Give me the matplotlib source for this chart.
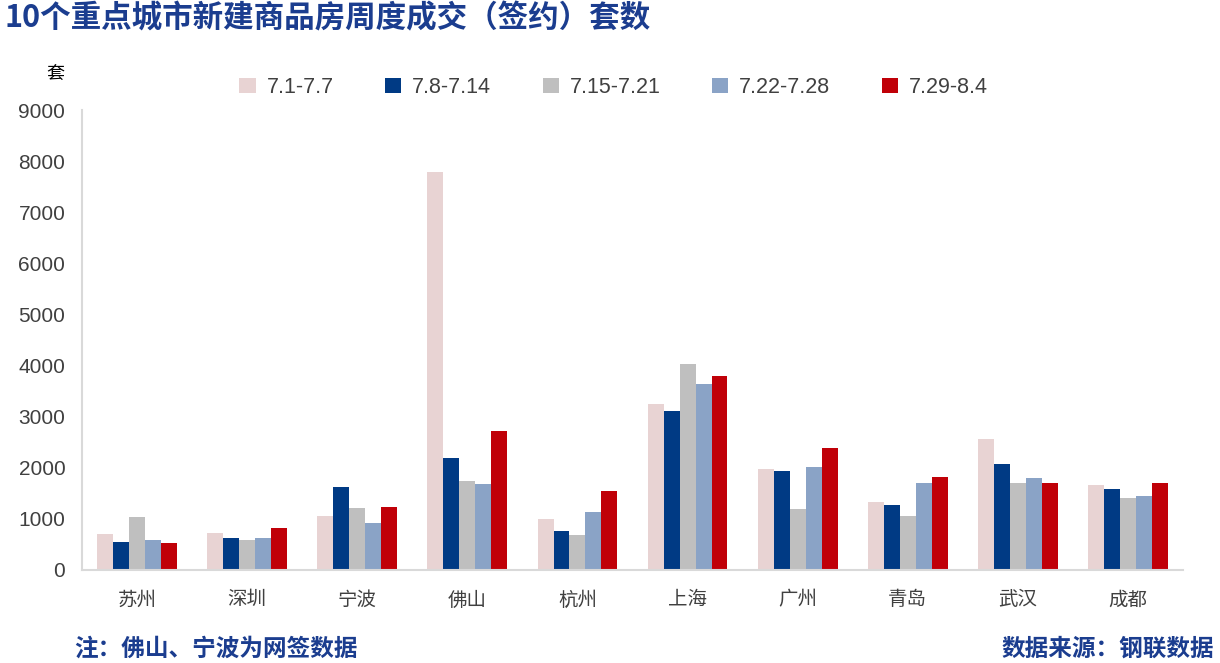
import matplotlib
matplotlib.use("Agg")
import matplotlib.pyplot as plt
import numpy as np

plt.rcParams['font.family'] = ['Noto Sans CJK SC', 'DejaVu Sans']

cities = ["苏州", "深圳", "宁波", "佛山", "杭州", "上海", "广州", "青岛", "武汉", "成都"]
weeks = ["7.1-7.7", "7.8-7.14", "7.15-7.21", "7.22-7.28", "7.29-8.4"]
w1 = [704, 724, 1057, 7790, 998, 3250, 1977, 1331, 2564, 1663]
w2 = [548, 626, 1624, 2192, 763, 3112, 1937, 1272, 2074, 1585]
w3 = [1037, 587, 1213, 1742, 685, 4031, 1194, 1057, 1703, 1409]
w4 = [587, 626, 920, 1683, 1135, 3640, 2016, 1703, 1800, 1448]
w5 = [528, 822, 1233, 2720, 1546, 3796, 2387, 1820, 1703, 1703]
series = [w1, w2, w3, w4, w5]
colors = ["#E8D3D3", "#003A84", "#BFBFBF", "#8AA3C6", "#C00008"]
yticks = [0, 1000, 2000, 3000, 4000, 5000, 6000, 7000, 8000, 9000]

fig = plt.figure(figsize=(12.2, 6.63), dpi=100)
ax = fig.add_axes([0.0672, 0.1403, 0.9025, 0.6937])

x = np.arange(len(cities))
bw = 0.145
for i, (s, c, lab) in enumerate(zip(series, colors, weeks)):
    ax.bar(x + (i - 2) * bw, s, width=bw, color=c, label=lab, zorder=2)

ax.set_xlim(-0.5, len(cities) - 0.5)
ax.set_ylim(0, 9000)
ax.set_yticks(yticks)
ax.set_yticklabels([str(t) for t in yticks], fontsize=15, color="#404040",
                   family=['Liberation Sans', 'DejaVu Sans'])
ax.set_xticks(x)
ax.set_xticklabels(cities, fontsize=14, color="#404040")
ax.tick_params(axis='y', length=0, pad=12)
ax.tick_params(axis='x', length=0, pad=14)
for sp in ['top', 'right']:
    ax.spines[sp].set_visible(False)
ax.spines['left'].set_color('#D9D9D9')
ax.spines['bottom'].set_color('#D9D9D9')
ax.spines['left'].set_linewidth(1.5)
ax.spines['bottom'].set_linewidth(1.5)

fig.text(0.004, 0.972, "10个重点城市新建商品房周度成交（签约）套数", fontsize=22,
         fontweight='bold', color="#1B3D8F", va='center', ha='left')
fig.text(0.045, 0.888, "套", fontsize=13, color="#000000", va='center', ha='center')

leg = fig.legend(loc='center', bbox_to_anchor=(0.503, 0.868), ncol=5, frameon=False,
                 handlelength=0.75, handleheight=0.75, columnspacing=2.4,
                 handletextpad=0.5, prop={'family': ['Liberation Sans', 'DejaVu Sans'], 'size': 15.5})
for t in leg.get_texts():
    t.set_color("#404040")

fig.text(0.061, 0.021, "注：佛山、宁波为网签数据", fontsize=17, fontweight='bold',
         color="#1B3D8F", va='center', ha='left')
fig.text(0.995, 0.021, "数据来源：钢联数据", fontsize=17, fontweight='bold',
         color="#1B3D8F", va='center', ha='right')

fig.savefig("out.png", dpi=100)
